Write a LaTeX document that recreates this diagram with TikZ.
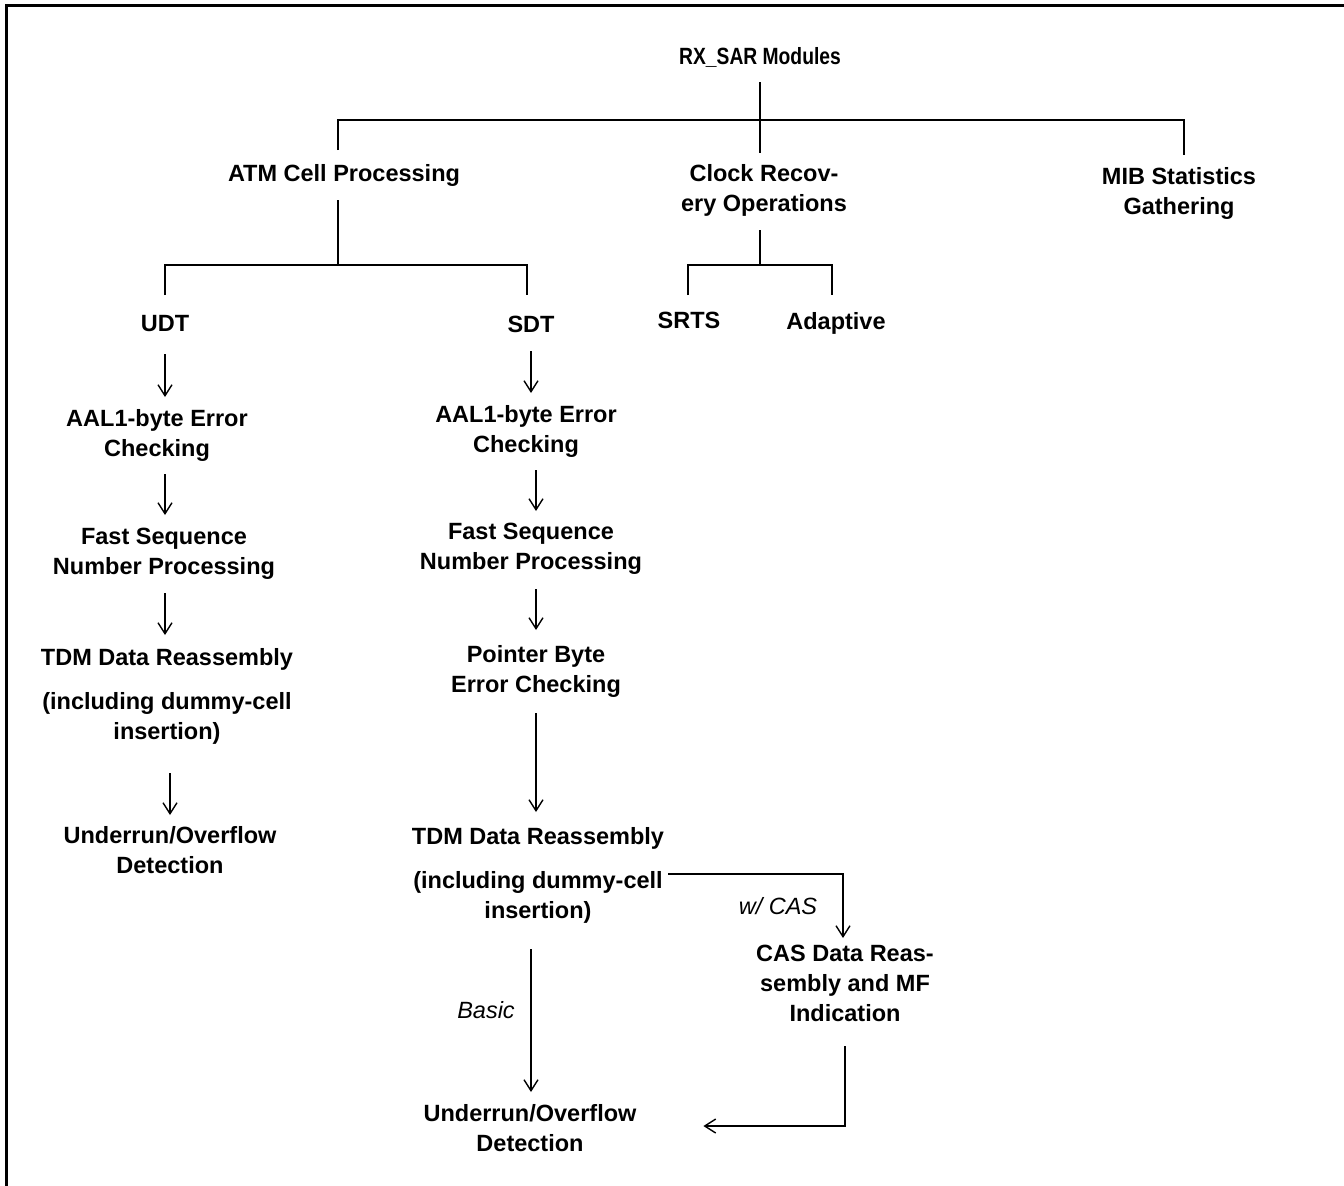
\documentclass[tikz,border=0pt]{standalone}
\usepackage{fontspec}
\setmainfont{Liberation Sans}
\usetikzlibrary{arrows.meta}
\begin{document}
\begin{tikzpicture}[x=1pt,y=-1pt,
  lbl/.style={font=\fontsize{23.5}{30}\selectfont\bfseries, align=center, inner sep=0pt, outer sep=0pt, text depth=5pt, anchor=north},
  note/.style={font=\fontsize{23.5}{30}\selectfont\itshape, inner sep=0pt},
  conn/.style={line width=1.8pt},
  arr/.style={line width=1.6pt, -{Straight Barb[length=11pt,width=14pt,line width=1.4pt]}},
  frame/.style={line width=3pt}]
\useasboundingbox (0,0) rectangle (1344,1186);
\draw[frame] (6,1186) -- (6,5) -- (1344,5);

% nodes (north anchor = top of first line)
\node[lbl] (root) at (760,47) {\scalebox{0.82}[1]{RX\_SAR Modules}};
\node[lbl] (atm) at (344,164) {ATM Cell Processing};
\node[lbl] (clock) at (764,164) {Clock Recov-\\ery Operations};
\node[lbl] (mib) at (1179,167) {MIB Statistics\\Gathering};
\node[lbl] (udt) at (165,315) {UDT};
\node[lbl] (sdt) at (531,316) {SDT};
\node[lbl] (srts) at (689,312) {SRTS};
\node[lbl] (adapt) at (836,312) {Adaptive};

\node[lbl] (aalU) at (157,409) {AAL1-byte Error\\Checking};
\node[lbl] (fastU) at (164,528) {Fast Sequence\\Number Processing};
\node[lbl] (tdmU) at (167,648) {TDM Data Reassembly\\[14pt](including dummy-cell\\insertion)};
\node[lbl] (uoU) at (170,826) {Underrun/Overflow\\Detection};

\node[lbl] (aalS) at (526,405) {AAL1-byte Error\\Checking};
\node[lbl] (fastS) at (531,523) {Fast Sequence\\Number Processing};
\node[lbl] (ptr) at (536,645) {Pointer Byte\\Error Checking};
\node[lbl] (tdmS) at (538,827) {TDM Data Reassembly\\[14pt](including dummy-cell\\insertion)};
\node[lbl] (cas) at (845,945) {CAS Data Reas-\\sembly and MF\\Indication};
\node[lbl] (uoS) at (530,1104) {Underrun/Overflow\\Detection};

\node[note] (wcas) at (778,906) {w/ CAS};
\node[note] (basic) at (486,1010) {Basic};

% junctions
\coordinate (j0) at (760,120);
\coordinate (j1) at (338,265);
\coordinate (j2) at (760,265);

% tree
\draw[conn] ([yshift=-13pt]root.south) -- ([xshift=-4pt,yshift=11pt]clock.north);
\draw[conn] ([xshift=-6pt,yshift=14pt]atm.north) |- (j0) -| ([xshift=5pt,yshift=12pt]mib.north);
\draw[conn] ([xshift=-6pt,yshift=-14pt]atm.south) -- (j1);
\draw[conn] ([yshift=20pt]udt.north) |- (j1) -| ([xshift=-4pt,yshift=21pt]sdt.north);
\draw[conn] ([xshift=-4pt,yshift=-14pt]clock.south) -- (j2);
\draw[conn] ([xshift=-1pt,yshift=17pt]srts.north) |- (j2) -| ([xshift=-4pt,yshift=17pt]adapt.north);

% UDT column
\draw[arr] ([yshift=-18pt]udt.south) -- ([xshift=8pt,yshift=12pt]aalU.north);
\draw[arr] ([xshift=8pt,yshift=-13pt]aalU.south) -- ([xshift=1pt,yshift=13pt]fastU.north);
\draw[arr] ([xshift=1pt,yshift=-14pt]fastU.south) -- ([xshift=-2pt,yshift=13pt]tdmU.north);
\draw[arr] ([xshift=3pt,yshift=-29pt]tdmU.south) -- ([yshift=11pt]uoU.north);

% SDT column
\draw[arr] ([yshift=-14pt]sdt.south) -- ([xshift=5pt,yshift=12pt]aalS.north);
\draw[arr] ([xshift=10pt,yshift=-13pt]aalS.south) -- ([xshift=5pt,yshift=12pt]fastS.north);
\draw[arr] ([xshift=5pt,yshift=-15pt]fastS.south) -- ([yshift=15pt]ptr.north);
\draw[arr] ([yshift=-16pt]ptr.south) -- ([xshift=-2pt,yshift=15pt]tdmS.north);
\draw[arr] ([xshift=4pt,yshift=1pt]tdmS.east) -| ([xshift=-2pt,yshift=7pt]cas.north);
\draw[arr] ([xshift=-7pt,yshift=-26pt]tdmS.south) -- ([xshift=1pt,yshift=12pt]uoS.north);
\draw[arr] ([yshift=-20pt]cas.south) |- ([xshift=67pt,yshift=4pt]uoS.east);
\end{tikzpicture}
\end{document}
